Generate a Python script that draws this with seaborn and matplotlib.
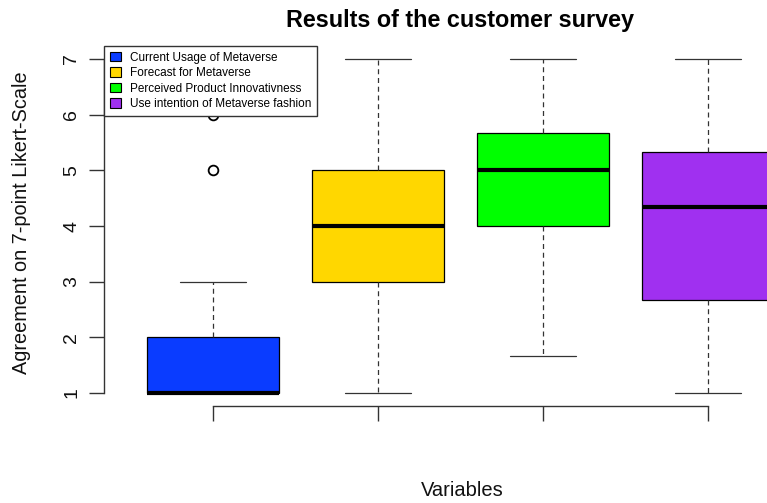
import matplotlib
matplotlib.use("Agg")
import matplotlib.pyplot as plt
from matplotlib.patches import Patch
import seaborn as sns
import pandas as pd

# Survey scores per construct (7-point Likert averages)
variables = [
    "Current Usage of Metaverse",
    "Forecast for Metaverse",
    "Perceived Product Innovativness",
    "Use intention of Metaverse fashion",
]
usage_scores = [1, 1, 1, 1, 1, 1, 1, 1, 2, 2, 2, 2, 3, 5, 6]
forecast_scores = [1, 3, 3, 4, 5, 5, 7]
innovativeness_scores = [1.667, 4, 4, 5, 5.667, 5.667, 7]
intention_scores = [1, 2.667, 2.667, 4.333, 5.333, 5.333, 7]
box_colors = ["#0a3cff", "#ffd700", "#00ff00", "#a030f0"]
y_ticks = [1, 2, 3, 4, 5, 6, 7]

rows = []
for name, vals in zip(variables, [usage_scores, forecast_scores,
                                  innovativeness_scores, intention_scores]):
    rows += [(name, v) for v in vals]
df = pd.DataFrame(rows, columns=["variable", "score"])

sns.set_style("white")
plt.rcParams["font.family"] = ["Liberation Sans", "DejaVu Sans"]
plt.rcParams["text.color"] = "black"
plt.rcParams["ytick.labelcolor"] = "black"

W, H = 767, 503
fig = plt.figure(figsize=(W / 100, H / 100), dpi=100)
left, right, top, bottom = 104, 817, 45.6, 406.4
ax = fig.add_axes([left / W, (H - bottom) / H, (right - left) / W, (bottom - top) / H])

sns.boxplot(
    data=df, x="variable", y="score", hue="variable", order=variables,
    palette=box_colors, saturation=1, width=0.8, whis=1.5, ax=ax, legend=False,
    linecolor="black", linewidth=0.9,
    boxprops=dict(edgecolor="black"),
    whiskerprops=dict(linestyle=(0, (4, 3)), color="#333333"),
    capprops=dict(color="#333333"),
    medianprops=dict(color="black", linewidth=3),
    flierprops=dict(marker="o", markersize=7, markerfacecolor="white",
                    markeredgecolor="black", markeredgewidth=1.3),
)
# caps half the box width
for line in ax.lines:
    xd = line.get_xdata()
    yd = line.get_ydata()
    if len(xd) == 2 and yd[0] == yd[1] and abs(xd[1] - xd[0]) > 0.01 and line.get_linewidth() < 2:
        c = (xd[0] + xd[1]) / 2
        line.set_xdata([c - 0.2, c + 0.2])

ax.set_xlim(-0.66, 3.66)
ax.set_ylim(0.76, 7.24)
ax.set_yticks(y_ticks)
ax.set_yticklabels([str(t) for t in y_ticks], rotation=90, va="center", fontsize=14,
                   color="#111111")
ax.set_xticks(range(len(variables)))
ax.set_xticklabels([""] * len(variables))
ax.tick_params(axis="both", direction="out", length=11, width=1, color="#333333",
               left=True, bottom=True, pad=6)
for s in ["top", "right"]:
    ax.spines[s].set_visible(False)
ax.spines["left"].set_bounds(1, 7)
ax.spines["bottom"].set_bounds(0, 3)
for s in ["left", "bottom"]:
    ax.spines[s].set_color("#333333")
    ax.spines[s].set_linewidth(1)

ax.set_xlabel("")
ax.set_ylabel("")
fig.text(22 / W, 1 - 223 / H, "Agreement on 7-point Likert-Scale", rotation=90,
         ha="center", va="center", fontsize=14.3, color="#111111")
fig.text(462 / W, 1 - 490 / H, "Variables", ha="center", va="center", fontsize=14.5,
         color="#111111")
fig.text(460 / W, 1 - 20 / H, "Results of the customer survey", ha="center",
         va="center", fontsize=16.8, fontweight="bold", color="black")

handles = [Patch(facecolor=c, edgecolor="black", linewidth=0.8) for c in box_colors]
leg = ax.legend(handles, variables, loc="upper left", bbox_to_anchor=(0, 1),
                frameon=True, fancybox=False, framealpha=1, fontsize=8.5,
                handlelength=0.9, handleheight=0.9, handletextpad=0.8,
                borderpad=0.5, labelspacing=0.3, borderaxespad=0)
leg.get_frame().set_edgecolor("#333333")
leg.get_frame().set_linewidth(1)
leg.set_zorder(10)
for t in leg.get_texts():
    t.set_color("black")

fig.savefig("out.png", dpi=100)
